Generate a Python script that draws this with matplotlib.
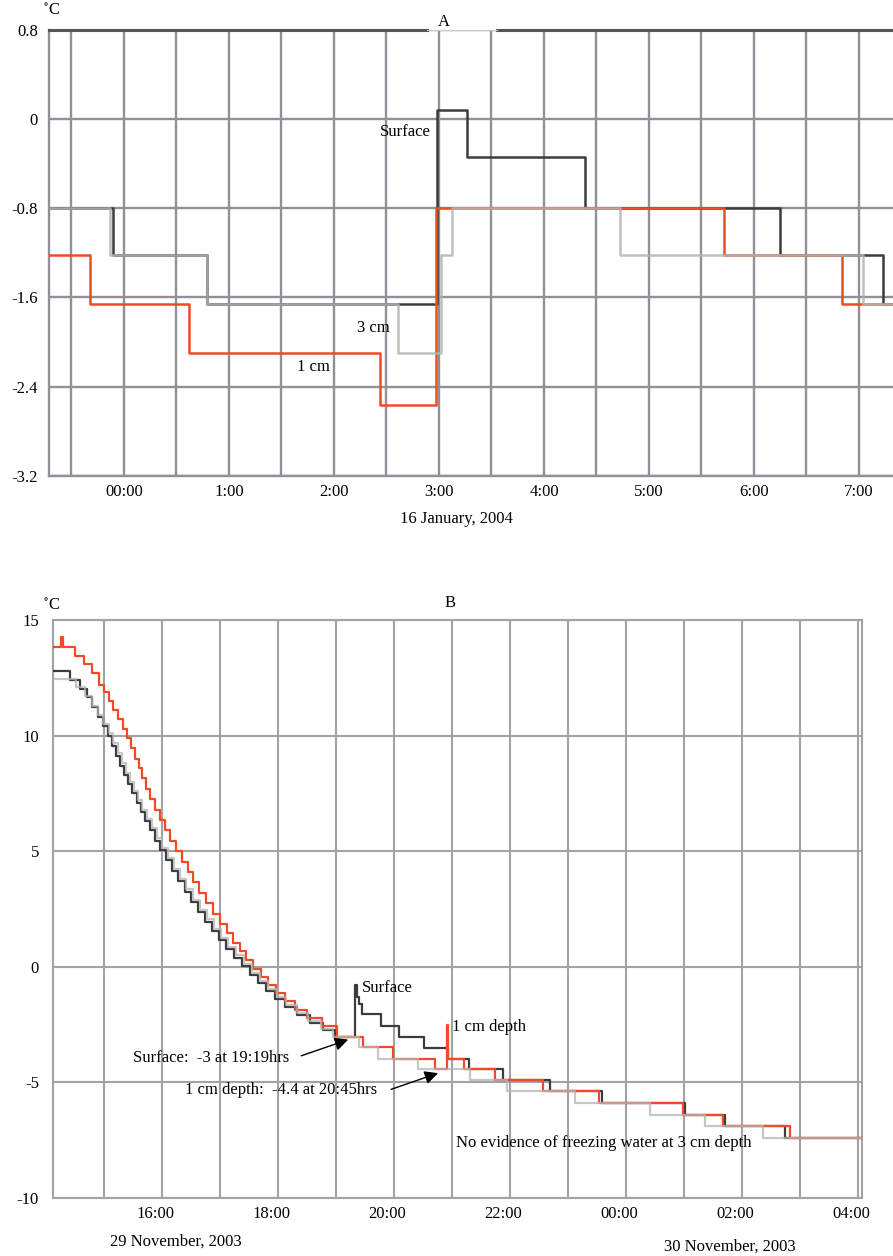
import numpy as np
import matplotlib
matplotlib.use("Agg")
import matplotlib.pyplot as plt
import matplotlib.transforms as mtransforms

plt.rcParams['font.family'] = ['Liberation Serif', 'DejaVu Serif']
plt.rcParams['mathtext.fontset'] = 'stix'

# ---- panel A: 16 January 2004, hours after midnight ----
a_surf_t = [-0.714, -0.10, 0.79, 2.98, 3.27, 4.39, 6.25, 7.23, 7.33]
a_surf_v = [-0.80, -1.22, -1.66, 0.08, -0.34, -0.80, -1.22, -1.66, -1.66]
a_3cm_t = [-0.714, -0.13, 0.79, 2.61, 3.02, 3.12, 4.72, 7.04, 7.33]
a_3cm_v = [-0.80, -1.22, -1.66, -2.10, -1.22, -0.80, -1.22, -1.66, -1.66]
a_1cm_t = [-0.714, -0.32, 0.62, 2.44, 2.97, 5.71, 6.84, 7.33]
a_1cm_v = [-1.22, -1.66, -2.10, -2.56, -0.80, -1.22, -1.66, -1.66]
a_yticks = [0.8, 0, -0.8, -1.6, -2.4, -3.2]
a_ylabels = ['0.8', '0', '-0.8', '-1.6', '-2.4', '-3.2']
a_xticks = [0, 1, 2, 3, 4, 5, 6, 7]
a_xlabels = ['00:00', '1:00', '2:00', '3:00', '4:00', '5:00', '6:00', '7:00']

# ---- panel B: 29-30 November 2003, hours after midnight of 29 Nov ----
b_surf_t = [14.12, 14.42, 14.58, 14.70, 14.80, 14.90, 14.99, 15.07, 15.14, 15.21,
            15.28, 15.35, 15.42, 15.49, 15.56, 15.63, 15.71, 15.79, 15.88, 15.97,
            16.07, 16.17, 16.28, 16.39, 16.50, 16.62, 16.74, 16.86, 16.98, 17.11,
            17.24, 17.38, 17.52, 17.66, 17.80, 17.95, 18.12, 18.32, 18.55, 18.78,
            18.98, 19.33, 19.36, 19.39, 19.44, 19.77, 20.08, 20.52, 20.93, 21.30,
            21.88, 22.69, 23.58, 25.02, 25.71, 26.74, 28.07]
b_surf_v = [12.80, 12.40, 12.00, 11.65, 11.25, 10.80, 10.40, 10.00, 9.55, 9.10,
            8.70, 8.30, 7.90, 7.50, 7.10, 6.70, 6.30, 5.90, 5.45, 5.05,
            4.60, 4.15, 3.70, 3.25, 2.80, 2.35, 1.95, 1.55, 1.15, 0.75,
            0.40, 0.05, -0.35, -0.70, -1.05, -1.40, -1.75, -2.10, -2.45, -2.75,
            -3.05, -0.80, -1.30, -1.60, -2.05, -2.55, -3.05, -3.50, -4.00, -4.42,
            -4.91, -5.39, -5.88, -6.39, -6.89, -7.41, -7.41]

b_3cm_t = [14.12, 14.52, 14.67, 14.79, 14.89, 14.99, 15.08, 15.16, 15.24, 15.31,
           15.38, 15.45, 15.52, 15.59, 15.66, 15.74, 15.82, 15.91, 16.00, 16.10,
           16.20, 16.31, 16.42, 16.53, 16.65, 16.77, 16.89, 17.01, 17.14, 17.27,
           17.41, 17.55, 17.69, 17.83, 17.98, 18.14, 18.32, 18.52, 18.74, 18.95,
           19.39, 19.73, 20.42, 21.31, 21.94, 23.12, 24.41, 25.36, 26.36, 28.07]
b_3cm_v = [12.45, 12.10, 11.70, 11.30, 10.90, 10.50, 10.10, 9.70, 9.25, 8.80,
           8.40, 8.00, 7.60, 7.20, 6.80, 6.40, 6.00, 5.55, 5.15, 4.70,
           4.25, 3.80, 3.35, 2.90, 2.45, 2.05, 1.65, 1.25, 0.85, 0.50,
           0.10, -0.25, -0.60, -0.95, -1.30, -1.65, -2.00, -2.35, -2.70, -3.04,
           -3.45, -3.98, -4.42, -4.91, -5.39, -5.88, -6.39, -6.89, -7.41, -7.41]

b_1cm_t = [14.12, 14.25, 14.29, 14.50, 14.65, 14.80, 14.92, 15.00, 15.08, 15.16,
           15.24, 15.32, 15.39, 15.46, 15.53, 15.60, 15.66, 15.73, 15.80, 15.88,
           15.96, 16.05, 16.14, 16.24, 16.34, 16.44, 16.54, 16.64, 16.76, 16.88,
           17.00, 17.12, 17.23, 17.34, 17.45, 17.57, 17.70, 17.83, 17.97, 18.12,
           18.30, 18.50, 18.75, 19.02, 19.47, 19.99, 20.71, 20.92, 20.935, 21.20,
           21.74, 22.57, 23.54, 24.99, 25.68, 26.83, 28.07]
b_1cm_v = [13.85, 14.25, 13.85, 13.45, 13.10, 12.70, 12.20, 11.90, 11.50, 11.10,
           10.70, 10.30, 9.90, 9.45, 9.00, 8.60, 8.15, 7.70, 7.25, 6.80,
           6.35, 5.90, 5.45, 5.00, 4.55, 4.10, 3.65, 3.20, 2.75, 2.30,
           1.85, 1.45, 1.05, 0.70, 0.30, -0.10, -0.45, -0.80, -1.15, -1.50,
           -1.85, -2.20, -2.55, -3.04, -3.45, -3.98, -4.42, -2.50, -3.98, -4.42,
           -4.91, -5.39, -5.88, -6.39, -6.89, -7.41, -7.41]
b_yticks = [15, 10, 5, 0, -5, -10]
b_ylabels = ['15', '10', '5', '0', '-5', '-10']
b_xticks = [16, 18, 20, 22, 24, 26, 28]
b_xlabels = ['16:00', '18:00', '20:00', '22:00', '00:00', '02:00', '04:00']

DARK = '#3c3c3c'
GREY = '#b4b4b4'
RED = '#f04a26'
FS = 12
W, H = 893, 1256

fig = plt.figure(figsize=(W / 100, H / 100), dpi=100)


def frac(x0, y0, x1, y1):
    return [x0 / W, 1 - y1 / H, (x1 - x0) / W, (y1 - y0) / H]


# ================= panel A =================
ax = fig.add_axes(frac(49, 29.5, 893, 476))
ax.set_xlim(-0.714, 7.324)
ax.set_ylim(-3.2, 0.8)
ax.set_xticks(a_xticks)
ax.set_xticklabels(a_xlabels, fontsize=FS)
ax.set_xticks(np.arange(-0.5, 7.01, 0.5), minor=True)
ax.set_yticks(a_yticks)
ax.set_yticklabels(a_ylabels, fontsize=FS)
ax.tick_params(which='both', length=0)
ax.tick_params(axis='y', pad=8)
ax.tick_params(axis='x', pad=6)
ax.grid(which='both', color='#909096', lw=1.7)
ax.set_axisbelow(True)
for s in ['top', 'right']:
    ax.spines[s].set_visible(False)
for s in ['left', 'bottom']:
    ax.spines[s].set_color('#909096')
    ax.spines[s].set_linewidth(1.7)
# dark top border with a break under the panel letter
ax.plot([-0.714, 2.886], [0.8, 0.8], color='#555555', lw=2.2, clip_on=False, zorder=6)
ax.plot([3.552, 7.324], [0.8, 0.8], color='#555555', lw=2.2, clip_on=False, zorder=6)
ax.plot([2.886, 3.552], [0.8, 0.8], color='#c8c8c8', lw=0.8, clip_on=False, zorder=6)

ax.plot(a_surf_t, a_surf_v, drawstyle='steps-post', color=DARK, lw=1.8, zorder=3)
ax.plot(a_1cm_t, a_1cm_v, drawstyle='steps-post', color=RED, lw=1.8, zorder=4)
ax.plot(a_3cm_t, a_3cm_v, drawstyle='steps-post', color=GREY, lw=1.8, alpha=0.85, zorder=5)

ax.text(2.44, -0.12, 'Surface', fontsize=FS, ha='left', va='center')
ax.text(2.22, -1.87, '3 cm', fontsize=FS, ha='left', va='center')
ax.text(1.65, -2.22, '1 cm', fontsize=FS, ha='left', va='center')

fig.text(444 / W, 1 - 22 / H, 'A', fontsize=FS, ha='center', va='center')
fig.text(52 / W, 1 - 11 / H, r'$^{\circ}$C', fontsize=FS, ha='center', va='center')
fig.text(456 / W, 1 - 519 / H, '16 January, 2004', fontsize=FS, ha='center', va='center')

# ================= panel B =================
bx = fig.add_axes(frac(53, 620, 862, 1198))
bx.set_xlim(14.12, 28.07)
bx.set_ylim(-10, 15)
bx.set_xticks(b_xticks)
bx.set_xticklabels(b_xlabels, fontsize=FS)
bx.set_xticks(np.arange(15, 28.01, 1), minor=True)
bx.set_yticks(b_yticks)
bx.set_yticklabels(b_ylabels, fontsize=FS)
bx.tick_params(which='both', length=0)
bx.tick_params(axis='y', pad=10)
bx.tick_params(axis='x', pad=6)
bx.grid(which='both', color='#a2a2a8', lw=1.5)
bx.set_axisbelow(True)
for s in bx.spines.values():
    s.set_color('#a2a2a8')
    s.set_linewidth(1.5)
shift = mtransforms.ScaledTranslation(-7 / 100, 0, fig.dpi_scale_trans)
for lab in bx.get_xticklabels():
    lab.set_transform(lab.get_transform() + shift)

bx.plot(b_surf_t, b_surf_v, drawstyle='steps-post', color=DARK, lw=1.6, zorder=3)
bx.plot(b_1cm_t, b_1cm_v, drawstyle='steps-post', color=RED, lw=1.6, zorder=4)
bx.plot(b_3cm_t, b_3cm_v, drawstyle='steps-post', color=GREY, lw=1.6, alpha=0.75, zorder=5)

bx.text(19.45, -0.9, 'Surface', fontsize=FS, ha='left', va='center')
bx.text(21.0, -2.6, '1 cm depth', fontsize=FS, ha='left', va='center')
bx.text(15.5, -3.96, 'Surface:  -3 at 19:19hrs', fontsize=FS, ha='left', va='center')
bx.text(16.4, -5.35, '1 cm depth:  -4.4 at 20:45hrs', fontsize=FS, ha='left', va='center')
bx.text(21.07, -7.64, 'No evidence of freezing water at 3 cm depth', fontsize=FS,
        ha='left', va='center')
arrow = dict(arrowstyle='-|>', color='black', lw=1.0, mutation_scale=20,
             shrinkA=0, shrinkB=0)
bx.annotate('', xy=(19.21, -3.15), xytext=(18.4, -3.85), arrowprops=arrow, zorder=6)
bx.annotate('', xy=(20.76, -4.6), xytext=(19.95, -5.3), arrowprops=arrow, zorder=6)

fig.text(450 / W, 1 - 603 / H, 'B', fontsize=FS, ha='center', va='center')
fig.text(52 / W, 1 - 606 / H, r'$^{\circ}$C', fontsize=FS, ha='center', va='center')
fig.text(176 / W, 1 - 1242 / H, '29 November, 2003', fontsize=FS, ha='center', va='center')
fig.text(730 / W, 1 - 1247 / H, '30 November, 2003', fontsize=FS, ha='center', va='center')

fig.savefig('out.png', dpi=100)
